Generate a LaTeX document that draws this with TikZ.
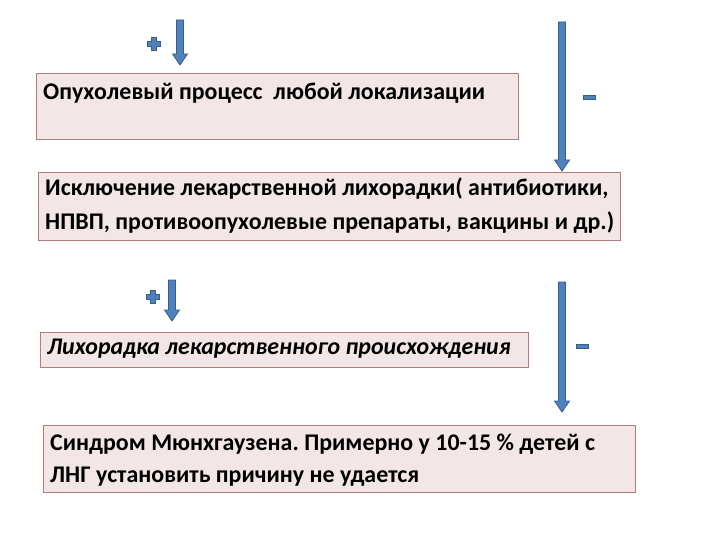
\documentclass[tikz,border=0pt]{standalone}
\usepackage{fontspec}
\setmainfont{Carlito}
\frenchspacing
\definecolor{boxfill}{HTML}{F2E7E6}
\definecolor{boxline}{HTML}{B07C7C}
\definecolor{arrfill}{HTML}{4F81BD}
\definecolor{arrline}{HTML}{385D8A}
\tikzset{
  box/.style={draw=boxline, line width=1bp, fill=boxfill, rectangle, inner sep=0pt},
  txt/.style={inner sep=0pt, font=\fontsize{24}{33}\selectfont\bfseries\frenchspacing, align=left, anchor=base west},
  blockarr/.style={fill=arrfill, draw=arrline, line width=0.8bp, line join=miter},
}
\newcommand\blockarrow[3]{%
  \filldraw[blockarr] ({#1-3.5},#2) -- ({#1+3.5},#2) -- ({#1+3.5},{#3-11}) -- ({#1+7.5},{#3-11})
    -- (#1,#3) -- ({#1-7.5},{#3-11}) -- ({#1-3.5},{#3-11}) -- cycle;}
\newcommand\plussign[2]{%
  \filldraw[blockarr] ({#1-2.5},{#2-6.5}) -- ({#1+2.5},{#2-6.5}) -- ({#1+2.5},{#2-2.5}) -- ({#1+6.5},{#2-2.5})
    -- ({#1+6.5},{#2+2.5}) -- ({#1+2.5},{#2+2.5}) -- ({#1+2.5},{#2+6.5}) -- ({#1-2.5},{#2+6.5})
    -- ({#1-2.5},{#2+2.5}) -- ({#1-6.5},{#2+2.5}) -- ({#1-6.5},{#2-2.5}) -- ({#1-2.5},{#2-2.5}) -- cycle;}
\newcommand\minussign[2]{%
  \filldraw[blockarr] ({#1-6},{#2-2}) rectangle ({#1+6},{#2+2});}
\begin{document}
\begin{tikzpicture}[x=1bp,y=-1bp]
\useasboundingbox (0,0) rectangle (720,540);
% boxes
\node[box, minimum width=482bp, minimum height=66bp, anchor=north west] (b1) at (36,73) {};
\node[box, minimum width=582bp, minimum height=68bp, anchor=north west] (b2) at (38,172) {};
\node[box, minimum width=488bp, minimum height=35bp, anchor=north west] (b3) at (40,332) {};
\node[box, minimum width=592bp, minimum height=67bp, anchor=north west] (b4) at (43,425) {};
% texts
\node[txt] (t1) at (43,100) {Опухолевый процесс\ \ любой локализации};
\node[txt] (t2a) at (45,196) {Исключение лекарственной лихорадки( антибиотики,};
\node[txt] (t2b) at (45,230) {НПВП, противоопухолевые препараты, вакцины и др.)};
\node[txt, font=\fontsize{24}{33}\selectfont\bfseries\itshape] (t3) at (47,354) {Лихорадка лекарственного происхождения};
\node[txt] (t4a) at (50,450) {Синдром Мюнхгаузена. Примерно у 10-15 \% детей с};
\node[txt] (t4b) at (50,482) {ЛНГ установить причину не удается};
% arrows and signs
\blockarrow{180}{20}{65}
\plussign{154}{44}
\blockarrow{562}{22}{171}
\minussign{589}{97}
\blockarrow{172}{280}{321}
\plussign{153}{297}
\blockarrow{562}{282}{412}
\minussign{582}{346}
\end{tikzpicture}
\end{document}
